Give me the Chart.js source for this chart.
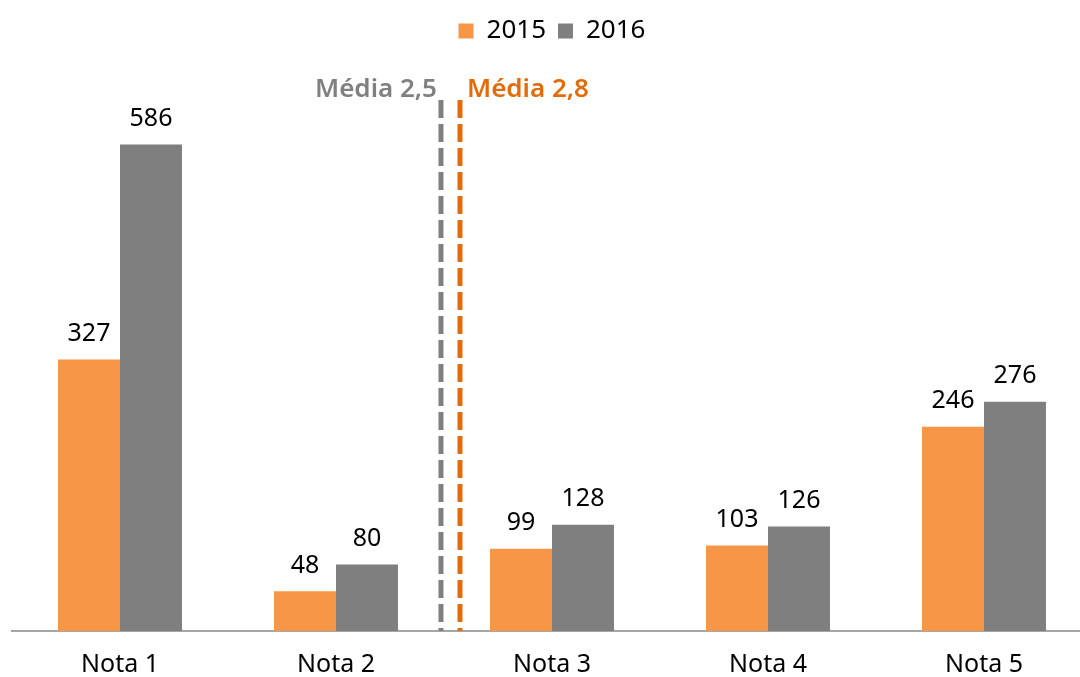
<!DOCTYPE html>
<html>
<head>
<meta charset="utf-8">
<script src="https://cdn.jsdelivr.net/npm/chart.js@4.4.1/dist/chart.umd.min.js"></script>
<style>
  html, body { margin: 0; padding: 0; background: #fff; overflow: hidden; }
  #wrap { width: 1080px; height: 677px; overflow: hidden; }
</style>
</head>
<body>
<div id="wrap"><canvas id="chart" width="1092" height="698"></canvas></div>
<script>
const categories = ['Nota 1', 'Nota 2', 'Nota 3', 'Nota 4', 'Nota 5'];
const series2015 = [327, 48, 99, 103, 246];
const series2016 = [586, 80, 128, 126, 276];
const mediaLabels = ['Média 2,5', 'Média 2,8'];
// where the average markers sit, in category index units
const mediaPositions = [1.486, 1.574];

const orangeBar = '#F79646';
const grayBar = '#7F7F7F';
const mediaColors = ['#808080', '#E36C0A'];

// value labels above the bars
const barLabels = {
    id: 'barLabels',
    afterDatasetsDraw(chart) {
        const ctx = chart.ctx;
        ctx.save();
        ctx.font = '25px "Noto Sans", sans-serif';
        ctx.fillStyle = '#000';
        ctx.textAlign = 'center';
        ctx.textBaseline = 'bottom';
        chart.data.datasets.forEach((ds, i) => {
            chart.getDatasetMeta(i).data.forEach((bar, j) => {
                ctx.fillText(ds.data[j], bar.x, bar.y - 13);
            });
        });
        ctx.restore();
    }
};

// dashed average lines
const mediaLines = {
    id: 'mediaLines',
    afterDatasetsDraw(chart) {
        const ctx = chart.ctx;
        const x = chart.scales.x;
        const bottom = chart.chartArea.bottom;
        ctx.save();
        mediaPositions.forEach((pos, i) => {
            const px = x.getPixelForValue(pos);
            ctx.strokeStyle = mediaColors[i];
            ctx.lineWidth = 5;
            ctx.setLineDash([18, 6]);
            ctx.beginPath();
            ctx.moveTo(px, 100);
            ctx.lineTo(px, bottom);
            ctx.stroke();
            ctx.font = '600 26px "Noto Sans", sans-serif';
            ctx.fillStyle = mediaColors[i];
            ctx.textBaseline = 'middle';
            ctx.textAlign = i === 0 ? 'right' : 'left';
            ctx.fillText(mediaLabels[i], i === 0 ? px - 4 : px + 7, 90);
        });
        ctx.restore();
    }
};

const ctx = document.getElementById('chart').getContext('2d');
const myChart = new Chart(ctx, {
    type: 'bar',
    data: {
        labels: categories,
        datasets: [{
            label: '2015',
            data: series2015,
            backgroundColor: orangeBar,
            categoryPercentage: 0.574,
            barPercentage: 1
        }, {
            label: '2016',
            data: series2016,
            backgroundColor: grayBar,
            categoryPercentage: 0.574,
            barPercentage: 1
        }]
    },
    options: {
        responsive: false,
        animation: false,
        layout: { padding: { left: 12, right: 0, top: 6, bottom: 0 } },
        scales: {
            x: {
                grid: { display: false, drawTicks: false },
                border: { display: true, color: '#A6A6A6', width: 2 },
                ticks: { color: '#000', font: { size: 25, family: '"Noto Sans", sans-serif', lineHeight: 1 }, padding: 21 }
            },
            y: {
                display: false,
                min: 0,
                max: 695
            }
        },
        plugins: {
            legend: {
                display: true,
                position: 'top',
                labels: {
                    boxWidth: 15,
                    boxHeight: 15,
                    color: '#000',
                    font: { size: 26, family: '"Noto Sans", sans-serif' },
                    padding: 12
                }
            },
            tooltip: { enabled: false }
        }
    },
    plugins: [barLabels, mediaLines]
});
</script>
</body>
</html>
